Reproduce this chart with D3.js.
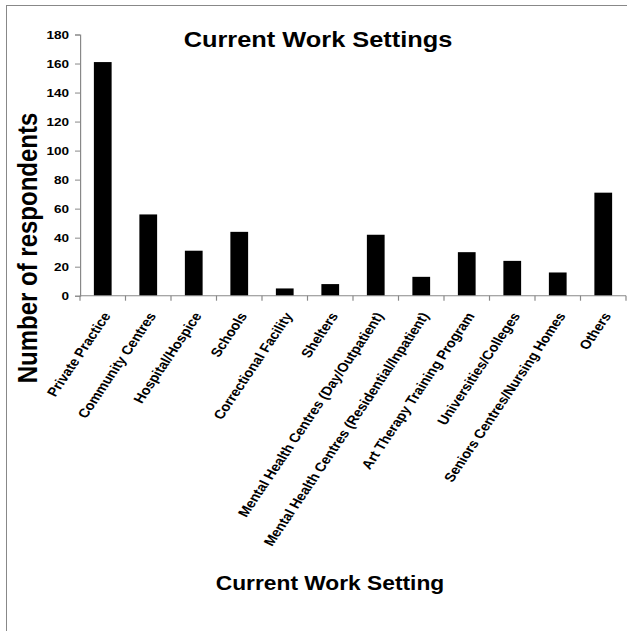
<!DOCTYPE html>
<html><head><meta charset="utf-8">
<script src="https://cdn.jsdelivr.net/npm/d3@7"></script>
<style>
html,body{margin:0;padding:0;background:#fff;}
svg{display:block;}
text{font-family:"Liberation Sans",Arial,sans-serif;font-weight:bold;fill:#000;}
</style></head>
<body>
<script>
const categories = ["Private Practice","Community Centres","Hospital/Hospice","Schools","Correctional Facility","Shelters","Mental Health Centres (Day/Outpatient)","Mental Health Centres (Residential/Inpatient)","Art Therapy Training Program","Universities/Colleges","Seniors Centres/Nursing Homes","Others"];
const values = [161, 56, 31, 44, 5, 8, 42, 13, 30, 24, 16, 71];
const yTicks = [0,20,40,60,80,100,120,140,160,180];
const title = "Current Work Settings";
const xTitle = "Current Work Setting";
const yTitle = "Number of respondents";

const W = 627, H = 631, SX = 1.18;
const svg = d3.select("body").append("svg").attr("width", W).attr("height", H);
svg.append("rect").attr("width", W).attr("height", H).attr("fill", "#fff");
svg.append("rect").attr("x", 6.5).attr("y", 5.5).attr("width", 700).attr("height", 700)
  .attr("fill", "none").attr("stroke", "#888").attr("stroke-width", 1);

const g = svg.append("g").attr("transform", `scale(${SX},1)`);
const x0 = 80 / SX, x1 = 626 / SX;
const x = d3.scaleBand().domain(categories).range([x0, x1]).paddingInner(0.61).paddingOuter(0.305);
const xb = d3.scaleBand().domain(categories).range([x0, x1]);
const y = d3.scaleLinear().domain([0, 180]).range([295.7, 34.5]);

// bars
g.selectAll("rect.bar").data(categories).enter().append("rect")
  .attr("class", "bar")
  .attr("x", d => x(d)).attr("width", x.bandwidth())
  .attr("y", (d, i) => y(values[i])).attr("height", (d, i) => y(0) - y(values[i]))
  .attr("fill", "#000");

// y axis
const yAxis = g.append("g").attr("transform", `translate(${x0},0)`)
  .call(d3.axisLeft(y).tickValues(yTicks).tickSize(5 / SX).tickPadding(6 / SX));
yAxis.select(".domain").attr("stroke", "#888");
yAxis.selectAll(".tick line").attr("stroke", "#888");
yAxis.selectAll(".tick text").attr("font-size", "11.5px").attr("font-family", "Liberation Sans, Arial, sans-serif").attr("font-weight", "bold").attr("fill", "#000");

// x axis line and ticks at category boundaries
const xAxisG = g.append("g").attr("transform", `translate(0,${y(0)})`);
xAxisG.append("line").attr("x1", x0).attr("x2", x1).attr("stroke", "#888");
const bounds = categories.map(c => xb(c)).concat([x1]);
xAxisG.selectAll("line.t").data(bounds).enter().append("line")
  .attr("class", "t").attr("x1", d => d).attr("x2", d => d).attr("y1", 0).attr("y2", 5).attr("stroke", "#888");

// x category labels
g.selectAll("text.cat").data(categories).enter().append("text")
  .attr("class", "cat")
  .attr("transform", d => `translate(${xb(d) + xb.bandwidth() / 2 + 3.2},313.5) rotate(-60)`)
  .attr("text-anchor", "end").attr("dy", "0.35em")
  .attr("font-size", "12.6px")
  .text(d => d);

// titles
g.append("text").attr("x", 318 / SX).attr("y", 47).attr("text-anchor", "middle")
  .attr("font-size", "21.5px").text(title);
g.append("text").attr("x", 330 / SX).attr("y", 590.5).attr("text-anchor", "middle")
  .attr("font-size", "19.3px").text(xTitle);
g.append("text").attr("transform", `translate(${37 / SX},248) rotate(-90)`).attr("text-anchor", "middle")
  .attr("font-size", "24px").text(yTitle);
</script>
</body></html>
